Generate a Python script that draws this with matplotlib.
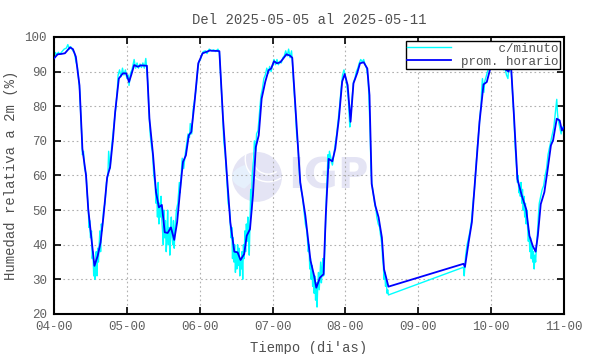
import numpy as np
import matplotlib
matplotlib.use('Agg')
import matplotlib.pyplot as plt
from matplotlib.patches import Ellipse, Wedge, Arc

# Titulo y etiquetas
titulo = "Del 2025-05-05 al 2025-05-11"
etiq_x = "Tiempo (di'as)"
etiq_y = "Humedad relativa a 2m (%)"
dias = [4, 5, 6, 7, 8, 9, 10, 11]
etiq_dias = ["04-00", "05-00", "06-00", "07-00", "08-00", "09-00", "10-00", "11-00"]
niveles = [20, 30, 40, 50, 60, 70, 80, 90, 100]

# Promedio horario (dia, humedad %)
t_hora = [4.00, 4.05, 4.10, 4.15, 4.22, 4.26, 4.30, 4.35, 4.39, 4.44, 4.47, 4.51,
          4.555, 4.60, 4.64, 4.68, 4.73, 4.77, 4.81, 4.84, 4.89, 4.945, 4.99, 5.03,
          5.06, 5.10, 5.15, 5.19, 5.275, 5.31, 5.36, 5.40, 5.44, 5.48, 5.52, 5.56,
          5.605, 5.65, 5.69, 5.73, 5.77, 5.81, 5.85, 5.885, 5.93, 5.98, 6.04, 6.08,
          6.14, 6.18, 6.23, 6.27, 6.32, 6.38, 6.42, 6.475, 6.52, 6.56, 6.61, 6.645,
          6.69, 6.73, 6.77, 6.81, 6.85, 6.90, 6.945, 6.98, 7.02, 7.06, 7.105, 7.14,
          7.19, 7.24, 7.27, 7.33, 7.38, 7.45, 7.52, 7.57, 7.60, 7.65, 7.70, 7.73,
          7.77, 7.82, 7.86, 7.91, 7.955, 7.99, 8.03, 8.07, 8.11, 8.16, 8.20, 8.25,
          8.30, 8.33, 8.36, 8.41, 8.455, 8.50, 8.53, 8.59, 9.62, 9.64, 9.69, 9.735,
          9.78, 9.84, 9.895, 9.94, 9.99, 10.03, 10.07, 10.105, 10.15, 10.19, 10.24, 10.27,
          10.315, 10.36, 10.42, 10.48, 10.525, 10.57, 10.61, 10.64, 10.68, 10.73, 10.77, 10.82,
          10.85, 10.90, 10.94, 10.97, 11.00]
hr_hora = [93.8, 95.0, 95.1, 95.3, 97.0, 96.5, 94.3, 86.0, 67.7, 60.0, 50.3, 42.6,
           33.9, 36.8, 40.7, 48.4, 59.5, 62.4, 70.6, 78.4, 88.0, 89.5, 89.5, 87.0,
           89.0, 91.9, 91.4, 91.8, 91.7, 76.4, 65.8, 55.2, 50.8, 51.5, 43.6, 43.4,
           45.0, 41.4, 46.5, 55.5, 63.9, 65.8, 71.6, 72.6, 81.3, 92.4, 95.3, 95.6,
           96.1, 96.0, 96.0, 95.9, 76.4, 58.0, 46.5, 38.0, 37.8, 35.6, 37.3, 42.6,
           44.5, 54.2, 68.2, 71.6, 82.2, 87.1, 90.4, 90.9, 93.0, 92.4, 92.7, 93.6,
           95.0, 94.6, 94.0, 74.5, 58.0, 48.4, 35.5, 31.0, 27.6, 30.5, 31.5, 48.4,
           64.8, 64.1, 67.7, 76.4, 87.1, 89.3, 86.1, 75.5, 86.6, 89.5, 92.4, 92.7,
           90.9, 83.2, 57.6, 51.3, 47.9, 42.1, 32.9, 27.9, 34.5, 33.6, 40.7, 46.5,
           59.0, 75.5, 86.3, 87.0, 91.1, 91.4, 92.1, 92.9, 91.4, 90.7, 90.0, 92.7,
           76.4, 59.0, 54.2, 50.3, 42.6, 39.7, 38.0, 42.6, 51.7, 55.2, 61.0, 68.7,
           70.2, 76.4, 75.9, 73.0, 74.0]

# Datos cada minuto (dia, humedad %)
t_min = [4.00, 4.02, 4.04, 4.06, 4.08, 4.11, 4.14, 4.17, 4.19, 4.21, 4.23, 4.26, 4.28, 4.30,
         4.32, 4.34, 4.355, 4.37, 4.385, 4.39, 4.405, 4.42, 4.44, 4.455, 4.47, 4.48, 4.49, 4.50,
         4.515, 4.525, 4.535, 4.545, 4.555, 4.56, 4.57, 4.58, 4.59, 4.60, 4.61, 4.62, 4.63, 4.64,
         4.65, 4.66, 4.68, 4.70, 4.72, 4.74, 4.75, 4.77, 4.79, 4.81, 4.83, 4.85, 4.87, 4.88,
         4.90, 4.92, 4.94, 4.96, 4.98, 5.00, 5.02, 5.03, 5.05, 5.07, 5.09, 5.10, 5.12, 5.14,
         5.16, 5.18, 5.20, 5.22, 5.24, 5.26, 5.27, 5.29, 5.30, 5.32, 5.34, 5.35, 5.37, 5.39,
         5.40, 5.41, 5.42, 5.43, 5.44, 5.45, 5.46, 5.47, 5.48, 5.49, 5.50, 5.51, 5.52, 5.53,
         5.54, 5.55, 5.56, 5.57, 5.58, 5.59, 5.60, 5.61, 5.62, 5.63, 5.64, 5.65, 5.66, 5.67,
         5.68, 5.70, 5.72, 5.73, 5.75, 5.76, 5.78, 5.80, 5.82, 5.84, 5.86, 5.87, 5.89, 5.91,
         5.93, 5.95, 5.97, 5.99, 6.01, 6.03, 6.05, 6.08, 6.10, 6.13, 6.16, 6.19, 6.22, 6.25,
         6.27, 6.29, 6.31, 6.33, 6.35, 6.37, 6.39, 6.41, 6.42, 6.43, 6.44, 6.45, 6.46, 6.47,
         6.48, 6.49, 6.50, 6.51, 6.52, 6.53, 6.54, 6.55, 6.56, 6.57, 6.58, 6.59, 6.60, 6.61,
         6.62, 6.63, 6.64, 6.65, 6.66, 6.67, 6.68, 6.69, 6.70, 6.71, 6.72, 6.74, 6.75, 6.77,
         6.78, 6.80, 6.82, 6.84, 6.86, 6.88, 6.90, 6.92, 6.94, 6.96, 6.98, 7.00, 7.02, 7.04,
         7.06, 7.08, 7.10, 7.12, 7.14, 7.16, 7.18, 7.20, 7.22, 7.24, 7.26, 7.27, 7.29, 7.31,
         7.33, 7.35, 7.37, 7.39, 7.41, 7.43, 7.45, 7.47, 7.49, 7.50, 7.51, 7.52, 7.53, 7.54,
         7.55, 7.56, 7.57, 7.58, 7.59, 7.60, 7.61, 7.62, 7.63, 7.64, 7.65, 7.66, 7.67, 7.68,
         7.69, 7.70, 7.71, 7.72, 7.73, 7.74, 7.75, 7.76, 7.77, 7.78, 7.80, 7.82, 7.84, 7.86,
         7.88, 7.90, 7.92, 7.94, 7.96, 7.98, 8.00, 8.02, 8.04, 8.05, 8.06, 8.07, 8.09, 8.11,
         8.13, 8.15, 8.17, 8.19, 8.21, 8.23, 8.25, 8.27, 8.29, 8.31, 8.32, 8.34, 8.35, 8.36,
         8.38, 8.40, 8.42, 8.43, 8.45, 8.47, 8.48, 8.50, 8.51, 8.52, 8.53, 8.54, 8.55, 8.56,
         8.57, 8.58, 8.59, 9.62, 9.63, 9.64, 9.65, 9.67, 9.69, 9.71, 9.73, 9.75, 9.77, 9.79,
         9.81, 9.83, 9.85, 9.86, 9.87, 9.88, 9.89, 9.90, 9.91, 9.93, 9.95, 9.97, 9.99, 10.01,
         10.03, 10.05, 10.07, 10.09, 10.11, 10.13, 10.15, 10.17, 10.19, 10.21, 10.23, 10.24, 10.26, 10.27,
         10.29, 10.31, 10.33, 10.35, 10.36, 10.37, 10.38, 10.39, 10.40, 10.41, 10.42, 10.43, 10.44, 10.45,
         10.46, 10.47, 10.48, 10.49, 10.50, 10.51, 10.52, 10.53, 10.54, 10.55, 10.56, 10.57, 10.58, 10.59,
         10.60, 10.61, 10.62, 10.63, 10.64, 10.65, 10.66, 10.68, 10.70, 10.72, 10.74, 10.76, 10.78, 10.80,
         10.82, 10.84, 10.86, 10.88, 10.89, 10.90, 10.91, 10.92, 10.94, 10.96, 10.98, 11.00]
hr_min = [93.5, 95.5, 94.8, 95.6, 95.0, 95.8, 96.5, 96.8, 97.8, 96.5, 97.2, 96.0, 95.5, 93.0,
          91.5, 87.5, 84.0, 76.0, 70.0, 66.0, 67.0, 62.0, 60.5, 55.0, 51.0, 45.0, 47.0, 42.0,
          44.0, 36.0, 38.0, 31.0, 35.0, 30.0, 33.0, 38.0, 31.0, 39.0, 35.0, 40.0, 44.0, 38.0,
          46.0, 44.0, 50.0, 52.0, 58.0, 60.0, 67.0, 62.0, 68.0, 72.0, 76.0, 80.0, 85.0, 89.0,
          90.5, 88.5, 91.0, 89.0, 90.5, 88.0, 89.0, 86.0, 89.5, 90.5, 92.5, 93.5, 91.0, 92.5,
          91.0, 92.2, 91.2, 92.5, 91.0, 93.8, 91.5, 86.0, 80.0, 72.0, 68.0, 67.0, 60.0, 57.0,
          52.0, 56.0, 48.0, 58.0, 46.0, 52.0, 48.0, 54.0, 47.0, 44.0, 40.0, 50.0, 42.0, 47.0,
          38.0, 42.0, 50.0, 40.0, 45.0, 37.0, 44.0, 48.0, 42.0, 40.0, 47.0, 39.0, 44.0, 47.0,
          50.0, 52.0, 58.0, 55.0, 62.0, 65.0, 62.0, 66.0, 69.0, 72.0, 71.0, 75.0, 72.0, 79.0,
          82.0, 85.0, 90.0, 93.0, 93.5, 95.0, 95.8, 96.0, 95.2, 96.5, 96.0, 96.3, 95.8, 96.5,
          95.5, 88.0, 80.0, 70.0, 66.0, 60.0, 52.0, 50.0, 46.0, 42.0, 45.0, 36.0, 42.0, 35.0,
          40.0, 32.0, 38.0, 33.0, 40.0, 34.0, 39.0, 31.0, 36.0, 33.0, 38.0, 30.0, 40.0, 36.0,
          44.0, 38.0, 46.0, 41.0, 48.0, 43.0, 37.0, 46.0, 56.0, 50.0, 60.0, 65.0, 70.0, 67.0,
          72.0, 73.0, 78.0, 83.0, 85.0, 88.0, 89.0, 91.0, 89.5, 91.5, 90.0, 92.0, 93.5, 92.0,
          93.5, 92.0, 93.0, 92.5, 94.0, 94.5, 96.0, 94.5, 96.5, 94.0, 96.0, 93.5, 86.0, 80.0,
          72.0, 68.0, 60.0, 56.0, 54.0, 50.0, 46.0, 44.0, 38.0, 40.0, 33.0, 36.0, 30.0, 34.0,
          28.0, 32.0, 26.0, 31.0, 24.0, 29.0, 22.0, 28.0, 32.0, 27.0, 31.0, 35.0, 29.0, 33.0,
          36.0, 31.0, 34.0, 42.0, 48.0, 55.0, 60.0, 66.0, 62.0, 67.0, 65.0, 63.0, 66.0, 69.0,
          72.0, 76.0, 80.0, 85.0, 89.0, 90.5, 88.5, 86.0, 82.0, 78.0, 74.0, 77.0, 82.0, 87.0,
          88.0, 90.0, 91.0, 92.5, 93.5, 92.8, 93.5, 92.0, 91.0, 88.0, 84.0, 72.0, 62.0, 58.0,
          55.0, 52.0, 50.0, 48.0, 46.0, 45.0, 43.0, 40.0, 36.0, 34.0, 30.0, 32.0, 28.0, 30.0,
          26.0, 27.0, 25.5, 33.5, 31.0, 34.0, 37.0, 40.0, 42.0, 44.0, 47.0, 52.0, 56.0, 62.0,
          68.0, 73.0, 78.0, 80.0, 85.0, 88.0, 86.0, 84.0, 87.0, 88.5, 90.0, 91.5, 92.5, 91.0,
          93.0, 91.5, 92.5, 93.2, 92.8, 91.5, 92.0, 90.5, 91.0, 89.0, 88.0, 91.0, 93.5, 92.0,
          85.0, 78.0, 68.0, 62.0, 58.0, 60.0, 55.0, 57.0, 54.0, 58.0, 52.0, 56.0, 50.0, 54.0,
          48.0, 52.0, 46.0, 50.0, 45.0, 41.0, 44.0, 38.0, 42.0, 36.0, 40.0, 35.0, 38.0, 33.0,
          37.0, 35.0, 39.0, 42.0, 45.0, 49.0, 52.0, 54.0, 56.0, 57.0, 60.0, 62.0, 66.0, 68.0,
          70.0, 72.0, 74.0, 78.0, 80.0, 82.0, 78.0, 76.0, 74.0, 72.0, 74.0, 73.0]

fuente = 'Liberation Mono'
gris = '#606060'

fig = plt.figure(figsize=(5.9, 3.54), dpi=100)
ax = fig.add_axes([0.0915, 0.113, 0.8645, 0.7825])

# logo de fondo (marca de agua)
ax.add_patch(Ellipse((0.398, 0.495), 0.098, 0.18, transform=ax.transAxes,
                     facecolor='#e4e4f4', edgecolor='none', zorder=0))
ax.add_patch(Wedge((0.398, 0.495), 0.049, 120, 240, transform=ax.transAxes,
                   facecolor='#e6f0fc', edgecolor='none', zorder=0))
for r in [0.03, 0.045]:
    ax.add_patch(Arc((0.42, 0.56), r * 2, r * 2 * 510 / 277, theta1=150, theta2=290,
                     transform=ax.transAxes, color='white', lw=1, zorder=0))
ax.text(0.459, 0.495, 'IGP', transform=ax.transAxes, fontsize=30, fontweight='bold',
        family='DejaVu Sans', color='#e4e4f4', ha='left', va='center', zorder=0)

ax.plot(t_min, hr_min, color='cyan', lw=1.0, label='     c/minuto', zorder=2)
ax.plot(t_hora, hr_hora, color='blue', lw=1.3, label='prom. horario', zorder=3)

ax.set_xlim(4, 11)
ax.set_ylim(20, 100)
ax.set_xticks(dias)
ax.set_xticklabels(etiq_dias)
ax.set_yticks(niveles)
ax.grid(True, color='#b0b0b0', ls=(0, (1.5, 2.5)), lw=0.8)
ax.tick_params(direction='in', top=True, right=True, length=5, width=1.2,
               labelsize=9, labelcolor=gris, pad=5)
for lab in ax.get_xticklabels() + ax.get_yticklabels():
    lab.set_family(fuente)
for s in ax.spines.values():
    s.set_linewidth(1.5)

ax.set_title(titulo, family=fuente, fontsize=10, color='#505050', pad=9)
ax.set_xlabel(etiq_x, family=fuente, fontsize=10, color='#505050', labelpad=6)
ax.set_ylabel(etiq_y, family=fuente, fontsize=10, color='#505050', labelpad=5)

leg = ax.legend(loc='upper right', prop={'family': fuente, 'size': 9}, fancybox=False,
                framealpha=1, edgecolor='black', borderpad=0.1, handlelength=3.5,
                borderaxespad=0.35, labelspacing=0.1, handletextpad=0.8)
leg.get_frame().set_linewidth(1.0)
for txt in leg.get_texts():
    txt.set_color('#505050')

fig.savefig('out.png', dpi=100)
